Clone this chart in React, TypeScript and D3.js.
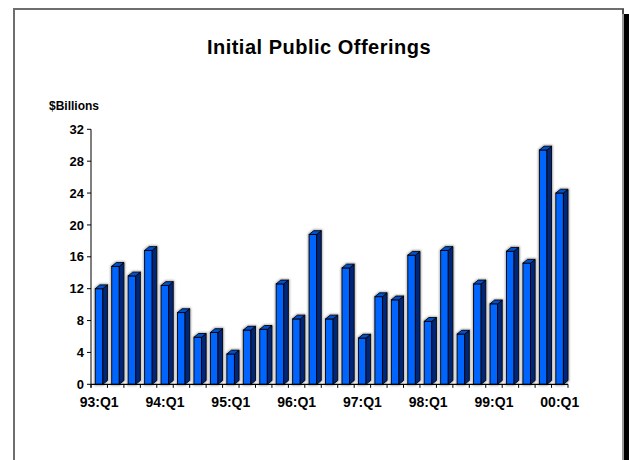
import React from "react";
import * as d3 from "d3";

// Quarterly IPO volume, $ billions
const quarters = [
  "93:Q1", "93:Q2", "93:Q3", "93:Q4",
  "94:Q1", "94:Q2", "94:Q3", "94:Q4",
  "95:Q1", "95:Q2", "95:Q3", "95:Q4",
  "96:Q1", "96:Q2", "96:Q3", "96:Q4",
  "97:Q1", "97:Q2", "97:Q3", "97:Q4",
  "98:Q1", "98:Q2", "98:Q3", "98:Q4",
  "99:Q1", "99:Q2", "99:Q3", "99:Q4",
  "00:Q1",
];
const values = [
  12.0, 14.8, 13.6, 16.8,
  12.4, 9.0, 5.9, 6.5,
  3.8, 6.8, 6.9, 12.6,
  8.2, 18.8, 8.2, 14.6,
  5.8, 11.0, 10.6, 16.2,
  7.9, 16.8, 6.3, 12.6,
  10.1, 16.7, 15.2, 29.4,
  24.0,
];
const xTickLabels = ["93:Q1", "94:Q1", "95:Q1", "96:Q1", "97:Q1", "98:Q1", "99:Q1", "00:Q1"];
const yTicks = [0, 4, 8, 12, 16, 20, 24, 28, 32];

const W = 629;
const H = 460;
const FONT = "'Liberation Sans', Arial, sans-serif";

const FRONT = "#0064FF";
const SIDE = "#00267A";
const TOP = "#0050D0";

export default function App() {
  const x = d3.scaleBand<string>().domain(quarters).range([91, 568]).paddingInner(0).paddingOuter(0);
  const y = d3.scaleLinear().domain([0, 32]).range([384.3, 129.3]);
  const bw = x.bandwidth();
  const frontOff = bw * 0.26;
  const frontW = bw * 0.46;
  const dx = bw * 0.28;
  const dy = 3.8;
  const y0 = y(0);

  return (
    <svg
      width={W}
      height={H}
      style={{ position: "absolute", left: 0, top: 0, background: "#fff" }}
      fontFamily={FONT}
    >
      <defs>
        <filter id="halo" x="-50%" y="-10%" width="200%" height="120%">
          <feGaussianBlur stdDeviation="0.9" />
        </filter>
      </defs>

      {/* panel frame with drop shadow on the right */}
      <rect x={624} y={14} width={5} height={H - 14} fill="#000" />
      <path d={`M14,${H} L14,9 L623,9 L623,14`} fill="none" stroke="#6e6e6e" strokeWidth={2} />
      <line x1={623} y1={9} x2={623} y2={H} stroke="#333" strokeWidth={1} />

      <text x={319} y={54} textAnchor="middle" fontSize={20} fontWeight="bold" fill="#000" letterSpacing={0.5}>
        Initial Public Offerings
      </text>
      <text x={49} y={109.5} fontSize={12} fontWeight="bold" fill="#000">
        $Billions
      </text>

      {/* bars */}
      {quarters.map((q, i) => {
        const v = values[i];
        const xl = (x(q) as number) + frontOff;
        const xr = xl + frontW;
        const yt = y(v);
        const outline = `M${xl},${y0} L${xl},${yt} L${xl + dx},${yt - dy} L${xr + dx},${yt - dy} L${xr + dx},${y0 - dy} L${xr},${y0} Z`;
        return (
          <g key={q}>
            <path d={outline} fill="none" stroke="#9a9a9a" strokeWidth={2.2} filter="url(#halo)" />
            <rect x={xl} y={yt} width={frontW} height={y0 - yt} fill={FRONT} stroke="#000" strokeWidth={0.9} />
            <path
              d={`M${xr},${yt} L${xr + dx},${yt - dy} L${xr + dx},${y0 - dy} L${xr},${y0} Z`}
              fill={SIDE}
              stroke="#000"
              strokeWidth={0.9}
            />
            <path
              d={`M${xl},${yt} L${xl + dx},${yt - dy} L${xr + dx},${yt - dy} L${xr},${yt} Z`}
              fill={TOP}
              stroke="#000"
              strokeWidth={0.9}
            />
          </g>
        );
      })}

      {/* y axis */}
      <line x1={91} y1={y(32)} x2={91} y2={y0 + 3.5} stroke="#000" strokeWidth={1} />
      {yTicks.map((t) => (
        <g key={t}>
          <line x1={87} x2={91} y1={y(t)} y2={y(t)} stroke="#000" strokeWidth={1} />
          <text x={84} y={y(t) + 4.6} textAnchor="end" fontSize={13} fontWeight="bold" fill="#000">
            {t}
          </text>
        </g>
      ))}

      {/* x axis */}
      <line x1={91} y1={y0} x2={568} y2={y0} stroke="#000" strokeWidth={1.2} />
      {[...quarters, null].map((q, i) => {
        const xp = q ? (x(q) as number) : 568;
        return <line key={i} x1={xp} x2={xp} y1={y0} y2={y0 + 3.5} stroke="#000" strokeWidth={1} />;
      })}
      {xTickLabels.map((l) => (
        <text
          key={l}
          x={(x(l) as number) + bw / 2}
          y={407}
          textAnchor="middle"
          fontSize={14}
          fontWeight="bold"
          fill="#000"
        >
          {l}
        </text>
      ))}
    </svg>
  );
}
